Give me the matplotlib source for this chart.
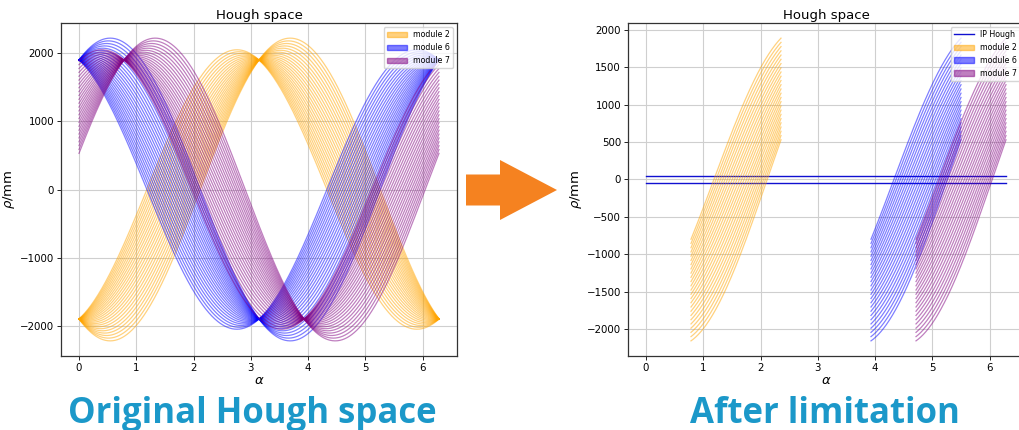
import numpy as np
import matplotlib
matplotlib.use("Agg")
import matplotlib.pyplot as plt
import matplotlib.patches as mpatches
from matplotlib.patches import FancyArrow

# Detector modules: name, colour, azimuth of the module normal (rad),
# and the distance of the module plane from the interaction point (mm)
module_names = ["module 2", "module 6", "module 7"]
module_colors = ["orange", "blue", "purple"]
module_phi = [np.pi, 0.0, np.pi / 4]
module_dist = [1900, 1900, 1900]

# Strip positions along each module (mm, tangential coordinate)
strip_offsets = [-770, -690, -610, -530, -450, -370, -290, -210, -130,
                 -50, 30, 110, 190, 270, 350, 430, 510, 590, 670,
                 750, 830, 910, 990, 1070, 1150]

# Allowed alpha window for each module after the limitation (rad)
alpha_window = [(np.pi / 4, 3 * np.pi / 4),
                (5 * np.pi / 4, 7 * np.pi / 4),
                (3 * np.pi / 2, 2 * np.pi)]

# Band of rho values compatible with tracks from the interaction point (mm)
ip_rho = [-50, 50]

alpha = np.linspace(0, 2 * np.pi, 600)


def strip_points(phi, dist):
    c, s = np.cos(phi), np.sin(phi)
    t = np.asarray(strip_offsets, dtype=float)
    x = dist * c - t * s
    y = dist * s + t * c
    return x, y


def hough(x, y, a):
    return x * np.cos(a) + y * np.sin(a)


fig = plt.figure(figsize=(10.2, 4.3), dpi=100)
ax1 = fig.add_axes([61 / 1020, 74 / 430, 396 / 1020, 333 / 430])
ax2 = fig.add_axes([628 / 1020, 74 / 430, 396 / 1020, 333 / 430])

grid_kw = dict(color="#cfcfcf", linewidth=0.8)

# Full Hough space
for name, col, phi, d in zip(module_names, module_colors, module_phi, module_dist):
    xs, ys = strip_points(phi, d)
    for x, y in zip(xs, ys):
        ax1.plot(alpha, hough(x, y, alpha), color=col, alpha=0.5, lw=0.9)

# Limited Hough space
ax2.plot([0, 2 * np.pi], [ip_rho[1], ip_rho[1]], color="#1010d0", lw=1.0)
ax2.plot([0, 2 * np.pi], [ip_rho[0], ip_rho[0]], color="#1010d0", lw=1.0)
for name, col, phi, d, win in zip(module_names, module_colors, module_phi,
                                  module_dist, alpha_window):
    xs, ys = strip_points(phi, d)
    a = np.linspace(win[0], win[1], 200)
    for x, y in zip(xs, ys):
        ax2.plot(a, hough(x, y, a), color=col, alpha=0.5, lw=0.9)

for ax in (ax1, ax2):
    ax.set_title("Hough space", fontsize=9.5, pad=3)
    ax.set_xlabel(r"$\alpha$", fontsize=9.5, labelpad=1)
    ax.set_ylabel(r"$\rho$/mm", fontsize=9.5, labelpad=2)
    ax.tick_params(labelsize=7.4, length=3, width=0.6, pad=2)
    ax.grid(True, **grid_kw)
    ax.set_axisbelow(True)
    ax.set_xticks([0, 1, 2, 3, 4, 5, 6])
    for sp in ax.spines.values():
        sp.set_color("#333333")
        sp.set_linewidth(0.9)

ax2.set_yticks([-2000, -1500, -1000, -500, 0, 500, 1000, 1500, 2000])

patches = [mpatches.Patch(color=c, alpha=0.5, label=n)
           for n, c in zip(module_names, module_colors)]
ax1.legend(handles=patches, loc="upper right", fontsize=5.7,
           handlelength=2.5, framealpha=0.8)
ip_line = plt.Line2D([], [], color="#1010d0", lw=1.0, label="IP Hough")
ax2.legend(handles=[ip_line] + patches, loc="upper right", fontsize=5.7,
           handlelength=2.5, framealpha=0.8)

# Transition arrow between the two panels
arrow = FancyArrow(466 / 1020, 1 - 190 / 430, 91 / 1020, 0,
                   width=31 / 430, head_width=60 / 430, head_length=57 / 1020,
                   length_includes_head=True, transform=fig.transFigure,
                   color="#f58220", ec="none")
fig.add_artist(arrow)

cap_kw = dict(fontsize=25, fontweight="bold", color="#1b98c9",
              family=["Open Sans", "DejaVu Sans"], ha="center",
              va="baseline")
fig.text(252 / 1020, 1 - 423 / 430, "Original Hough space", **cap_kw)
fig.text(825 / 1020, 1 - 423 / 430, "After limitation", **cap_kw)

fig.savefig("out.png", dpi=100)
